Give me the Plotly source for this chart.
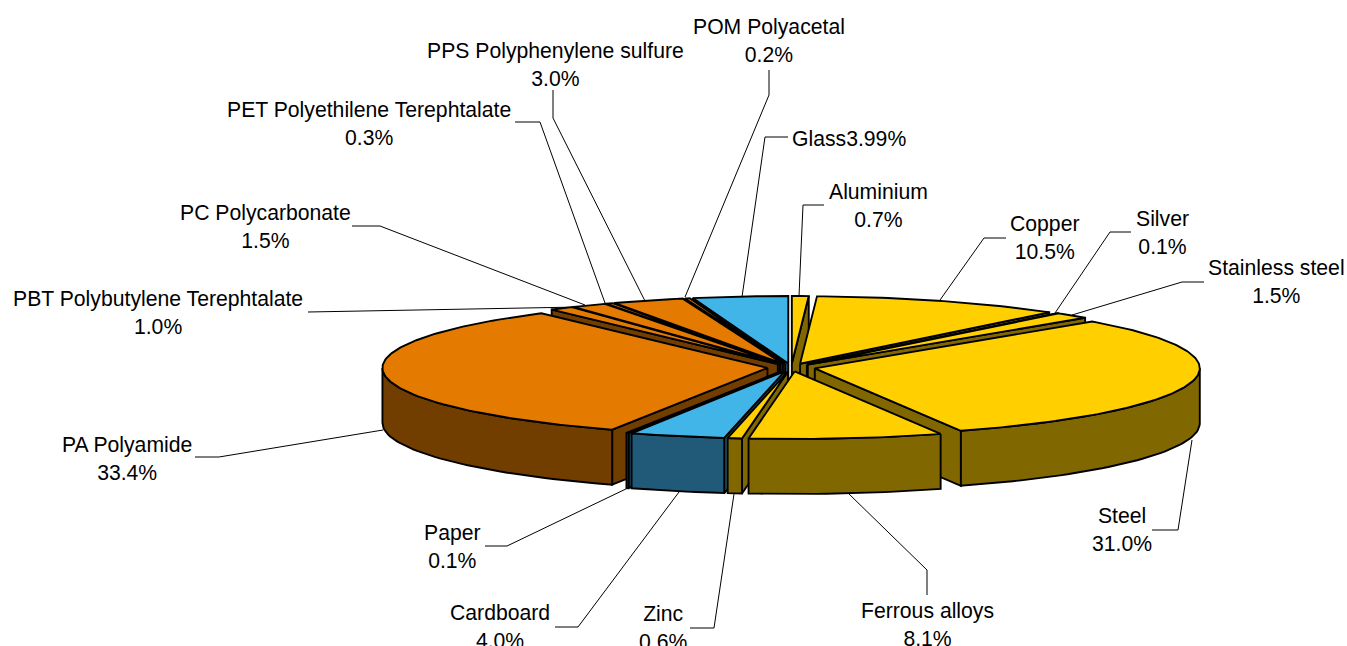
import math
import plotly.graph_objects as go

# ---- data, clockwise from 12 o'clock ----
materials = ["Aluminium", "Copper", "Silver", "Stainless steel", "Steel", "Ferrous alloys", "Zinc",
             "Cardboard", "Paper", "PA Polyamide", "PBT Polybutylene Terephtalate", "PC Polycarbonate",
             "PET Polyethilene Terephtalate", "PPS Polyphenylene sulfure", "POM Polyacetal", "Glass"]
shares = [0.7, 10.5, 0.1, 1.5, 31.0, 8.1, 0.6, 4.0, 0.1, 33.4, 1.0, 1.5, 0.3, 3.0, 0.2, 3.99]
share_labels = ["0.7%", "10.5%", "0.1%", "1.5%", "31.0%", "8.1%", "0.6%", "4.0%", "0.1%", "33.4%",
                "1.0%", "1.5%", "0.3%", "3.0%", "0.2%", "3.99%"]
groups = ["metal"] * 7 + ["paper"] * 2 + ["plastic"] * 6 + ["paper"]

# ---- styling / layout ----
TOP = {"metal": "#FFCF00", "paper": "#41B4E8", "plastic": "#E47B00"}
SIDE = {"metal": "#806700", "paper": "#215A78", "plastic": "#723E00"}
CX, CY, RX, RY, EX, EY, DEPTH = 791.3, 367.5, 385, 67.5, 24, 4, 55
EDGE = 1.9

label_centers = [(878, 205), (1045, 237), (1162, 232), (1276, 281), (1122, 529), (927, 624), (663, 627),
                 (500, 626), (452, 546), (127, 458), (158, 312), (265, 226), (369, 123), (555, 64),
                 (769, 40), (849, 138)]
leaders = [[(799, 296), (803, 205), (824, 205)],
           [(940, 300), (984, 238), (1006, 238)],
           [(1055, 313), (1110, 232), (1131, 232)],
           [(1072, 315), (1182, 282), (1204, 282)],
           [(1192, 440), (1178, 530), (1152, 530)],
           [(848, 493), (927, 570), (927, 595)],
           [(734, 494), (714, 628), (690, 628)],
           [(679, 492), (578, 627), (555, 627)],
           [(630, 487), (507, 546), (485, 546)],
           [(383, 430), (219, 457), (195, 457)],
           [(580, 307), (308, 312)],
           [(352, 226), (380, 226), (585, 305)],
           [(515, 122), (540, 122), (605, 303)],
           [(553, 90), (553, 118), (645, 301)],
           [(769, 70), (769, 95), (685, 297)],
           [(788, 137), (765, 137), (742, 297)]]

total = sum(shares)
fig = go.Figure()


def poly(pts, color):
    xs = [p[0] for p in pts] + [pts[0][0]]
    ys = [p[1] for p in pts] + [pts[0][1]]
    fig.add_trace(go.Scatter(x=xs, y=ys, mode="lines", fill="toself", fillcolor=color,
                             line=dict(color="black", width=EDGE), hoverinfo="skip", showlegend=False))


for pts in leaders:
    fig.add_trace(go.Scatter(x=[p[0] for p in pts], y=[p[1] for p in pts], mode="lines",
                             line=dict(color="black", width=1), hoverinfo="skip", showlegend=False))

slices = []
acc = 0.0
for i, v in enumerate(shares):
    a = acc / total * 2 * math.pi
    acc += v
    b = acc / total * 2 * math.pi
    m = (a + b) / 2
    slices.append((math.cos(m), a, b, m, groups[i]))
slices.sort(key=lambda s: -s[0])

for _, a, b, m, g in slices:
    ax = CX + EX * math.sin(m)
    ay = CY - EY * math.cos(m)

    def rim(t):
        return (ax + RX * math.sin(t), ay - RY * math.cos(t))

    down = lambda p: (p[0], p[1] + DEPTH)
    apex = (ax, ay)
    # radial wall that faces the viewer
    if math.sin(a) < 0:
        p = rim(a)
        poly([apex, p, down(p), down(apex)], SIDE[g])
    if math.sin(b) > 0:
        p = rim(b)
        poly([apex, p, down(p), down(apex)], SIDE[g])
    # outer wall: front half only
    lo, hi = max(a, math.pi / 2), min(b, 3 * math.pi / 2)
    if hi > lo:
        n = max(2, int((hi - lo) * 40))
        arc = [rim(lo + (hi - lo) * k / n) for k in range(n + 1)]
        poly(arc + [down(p) for p in reversed(arc)], SIDE[g])
    # top face
    n = max(2, int((b - a) * 60))
    poly([apex] + [rim(a + (b - a) * k / n) for k in range(n + 1)], TOP[g])

for name, pct, (x, y) in zip(materials, share_labels, label_centers):
    text = name + pct if name == "Glass" else name + "<br>" + pct
    fig.add_annotation(x=x, y=y, xref="x", yref="y", text=text, showarrow=False,
                       xanchor="center", yanchor="middle", align="center",
                       font=dict(family="Liberation Sans", size=21.2, color="black"))

fig.update_xaxes(visible=False, range=[0, 1347], fixedrange=True)
fig.update_yaxes(visible=False, range=[646, 0], fixedrange=True)
fig.update_layout(width=1347, height=646, margin=dict(l=0, r=0, t=0, b=0),
                  plot_bgcolor="white", paper_bgcolor="white", showlegend=False)
fig.write_html("out.html", config={"displayModeBar": False},
               post_script="document.body.style.margin='0';document.body.style.overflow='hidden';")
